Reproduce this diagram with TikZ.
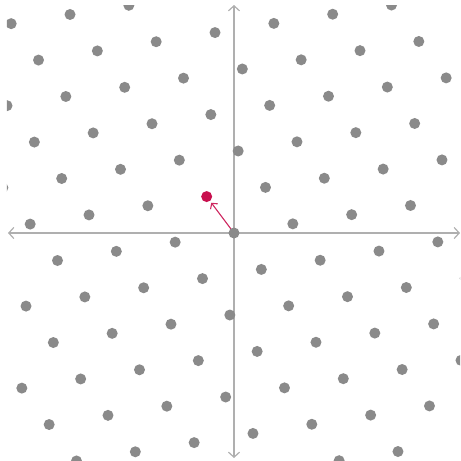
\documentclass[tikz,border=0pt]{standalone}
\usepackage{tikz}
\usetikzlibrary{arrows.meta}
\definecolor{dotgray}{HTML}{8A8A8A}
\definecolor{axisgray}{HTML}{AFAFAF}
\definecolor{vecred}{HTML}{C8104E}
\tikzset{
  axis/.style={{Straight Barb[length=5pt,width=11pt]}-{Straight Barb[length=5pt,width=11pt]},axisgray,line width=1.2pt},
  latdot/.style={circle,fill=dotgray,inner sep=0pt,minimum size=11pt},
  reddot/.style={circle,fill=vecred,inner sep=0pt,minimum size=11pt},
  vec/.style={-{Straight Barb[length=4pt,width=9pt]},vecred!90,line width=1.1pt,shorten >=2pt}
}

\begin{document}
\begin{tikzpicture}[x=1pt,y=1pt]
    \useasboundingbox (-234,-228) rectangle (227,233);
    \draw[axis] (-226,0)--(226,0);
    \draw[axis] (0,-225)--(0,228);
    \coordinate (O) at (0,0);
    \node[reddot] (P) at (-27.33,36.42) {};
    \draw[vec] (O)--(P);
    % lattice m*a+n*b, a=(58.83,9.17), b=(27.33,-36.42)
    \begin{scope}
      \clip (-227,-227) rectangle (226,227);
      \foreach \m in {-6,...,6}{
        \foreach \n in {-9,...,9}{
          \pgfmathtruncatemacro\skip{(\m==0 && \n==-1) || (\m==1 && \n==6)}
          \ifnum\skip=0
            \node[latdot] at ({58.83*\m+27.33*\n},{9.17*\m-36.42*\n}) {};
          \fi
        }
      }
    \end{scope}
\end{tikzpicture}
\end{document}
